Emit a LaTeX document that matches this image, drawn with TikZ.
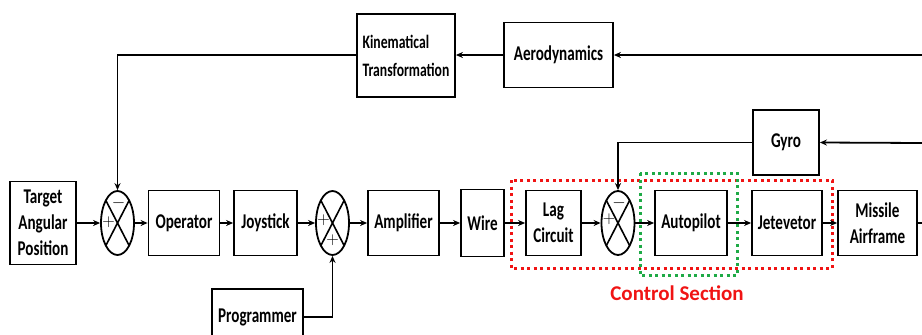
\documentclass[tikz,border=0pt]{standalone}
\usepackage{fontspec}
\newfontfamily\boxfont{Carlito}[FakeStretch=0.72]
\newfontfamily\labfont{Carlito}
\usetikzlibrary{arrows.meta,shapes.geometric,calc}
\definecolor{secred}{RGB}{240,20,20}
\definecolor{secgreen}{RGB}{30,170,70}
\tikzset{
  % bloklar
  blk/.style    = {draw, line width=1.8pt, align=center, inner sep=0pt,
                   font=\boxfont\bfseries\fontsize{21}{26}\selectfont},
  % yig'uvchi tugun
  sumj/.style   = {ellipse, draw, line width=1.8pt, inner sep=0pt,
                   minimum width=33, minimum height=64,
                   path picture={\draw[line width=1.6pt]
                     (path picture bounding box.north west) -- (path picture bounding box.south east)
                     (path picture bounding box.north east) -- (path picture bounding box.south west);}},
  sig/.style    = {font=\labfont\fontsize{17}{17}\selectfont, inner sep=0pt},
  % ulagichlar
  conn/.style   = {line width=1.8pt, -{Stealth[length=7pt,width=6pt]}},
  wireln/.style = {line width=1.8pt},
  % nuqtali ramkalar
  redbox/.style   = {secred, line width=3pt, dash pattern=on 3pt off 3.5pt},
  greenbox/.style = {secgreen, line width=3pt, dash pattern=on 3pt off 3.5pt},
  seclab/.style   = {secred, font=\labfont\bfseries\fontsize{21}{21}\selectfont},
}
\begin{document}
\begin{tikzpicture}[x=1pt,y=-1pt]
  \useasboundingbox (0,0) rectangle (922,335);
  % ramkalar
  \draw[redbox] (511,180) rectangle (832,268);
  \draw[greenbox] (640,173) rectangle (737,275);
  \node[seclab] (ctrl) at (677,293) {Control Section};
  % asosiy qator
  \node[blk, minimum width=66, minimum height=83] (tap) at (43,223) {Target\\Angular\\Position};
  \node[sumj] (s1) at (117.5,223) {};
  \node[blk, minimum width=71, minimum height=65] (op) at (184,223) {Operator};
  \node[blk, minimum width=63, minimum height=65] (joy) at (265.5,223) {Joystick};
  \node[sumj] (s2) at (332.5,223) {};
  \node[blk, minimum width=71, minimum height=65] (amp) at (403.5,223) {Amplifier};
  \node[blk, minimum width=43, minimum height=67] (wire) at (482.5,223) {Wire};
  \node[blk, minimum width=55, minimum height=65] (lag) at (553.5,223) {Lag\\Circuit};
  \node[sumj] (s3) at (618,223) {};
  \node[blk, minimum width=72, minimum height=65] (auto) at (691,223) {Autopilot};
  \node[blk, minimum width=70, minimum height=65] (jet) at (787,223) {Jetevetor};
  \node[blk, minimum width=79, minimum height=65] (air) at (877.5,223) {Missile\\Airframe};
  \node[blk, minimum width=91, minimum height=56] (prog) at (257.5,317) {Programmer};
  % teskari aloqa bloklari
  \node[blk, minimum width=66, minimum height=65] (gyro) at (786,142.5) {Gyro};
  \node[blk, minimum width=98, minimum height=83, align=left,
        font=\boxfont\bfseries\fontsize{19}{28}\selectfont] (kin) at (406,55.5) {Kinematical\\Transformation};
  \node[blk, minimum width=109, minimum height=65] (aero) at (558.5,55) {Aerodynamics};
  % chekka nuqtalar
  \coordinate (outR) at (922,223);
  \coordinate (gyroR) at (922,143);
  \coordinate (aeroR) at (922,55);
  % ishoralar
  \node[sig] at ($(s1.center)+(1,-20)$) {$-$};
  \node[sig] at ($(s1.center)+(-9,-1)$) {$+$};
  \node[sig] at ($(s2.center)+(-9,-3)$) {$+$};
  \node[sig] at ($(s2.center)+(0,17)$) {$+$};
  \node[sig] at ($(s3.center)+(1,-20)$) {$-$};
  \node[sig] at ($(s3.center)+(-9,-4)$) {$+$};
  % ulagichlar
  \draw[conn] (tap) -- (s1);
  \draw[conn] (s1) -- (op);
  \draw[conn] (op) -- (joy);
  \draw[conn] (joy) -- (s2);
  \draw[conn] (s2) -- (amp);
  \draw[conn] (amp) -- (wire);
  \draw[conn] (wire) -- (lag);
  \draw[conn] (lag) -- (s3);
  \draw[conn] (s3) -- (auto);
  \draw[conn] (auto) -- (jet);
  \draw[conn] (jet) -- (air);
  \draw[wireln] (air) -- (outR);
  \draw[conn] (prog.east) -| (s2.south);
  \draw[conn] (gyroR) -- (gyro.east);
  \draw[conn] (gyro.west) -| (s3.north);
  \draw[conn] (aeroR) -- (aero.east);
  \draw[conn] (aero.west) -- (kin.east |- aero.west);
  \draw[conn] (kin.west |- aero.west) -| (s1.north);
\end{tikzpicture}
\end{document}
